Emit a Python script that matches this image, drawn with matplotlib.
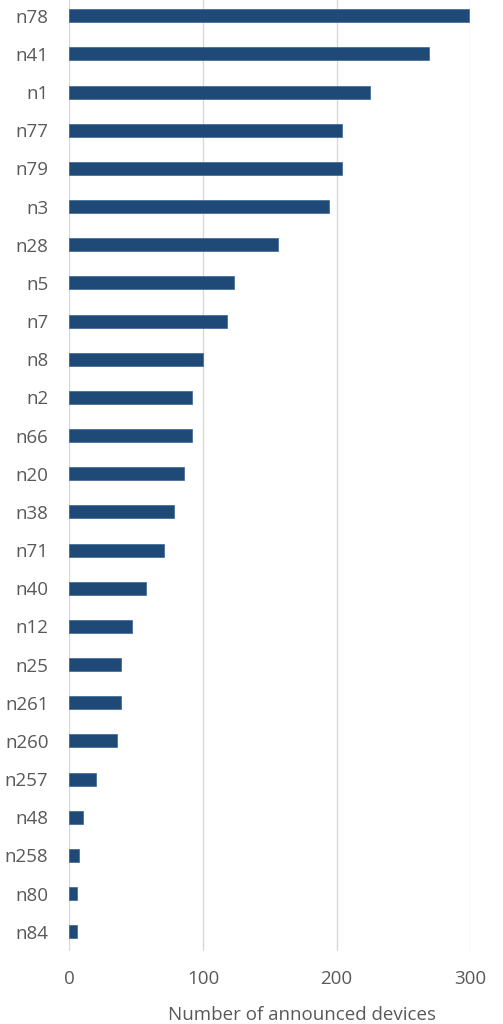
import matplotlib
matplotlib.use("Agg")
import matplotlib.pyplot as plt

# bands and number of announced devices, top to bottom
bands = ["n78", "n41", "n1", "n77", "n79", "n3", "n28", "n5", "n7", "n8",
         "n2", "n66", "n20", "n38", "n71", "n40", "n12", "n25", "n261", "n260",
         "n257", "n48", "n258", "n80", "n84"]
devices = [299, 269, 225, 204, 204, 194, 156, 123, 118, 100,
           92, 92, 86, 78, 71, 57, 47, 39, 39, 36,
           20, 10, 7, 6, 6]
xticks = [0, 100, 200, 300]

plt.rcParams["font.family"] = ["Open Sans", "DejaVu Sans"]

fig = plt.figure(figsize=(5.03, 10.24), dpi=100)
ax = fig.add_axes([0.1378, 0.0715, 0.7972, 0.9318])

pos = list(range(len(bands)))
ax.barh(pos, devices, height=0.34, color="#1f4a78", edgecolor="#3a6595", linewidth=0.5, zorder=3)

ax.set_xlim(0, 300)
ax.set_ylim(len(bands) - 0.5, -0.5)
ax.set_yticks(pos)
ax.set_yticklabels(bands)
ax.set_xticks(xticks)
ax.set_xticklabels([str(t) for t in xticks])

ax.grid(axis="x", color="#d9d9d9", linewidth=1.0, zorder=0)
ax.grid(axis="y", visible=False)
for s in ax.spines.values():
    s.set_visible(False)

ax.tick_params(axis="both", length=0, labelsize=13.5, colors="#595959")
ax.tick_params(axis="y", pad=15)
ax.tick_params(axis="x", pad=14)

ax.set_xlabel("Number of announced devices", fontsize=13.5, color="#595959")
ax.xaxis.set_label_coords(0.58, -0.058)

fig.savefig("out.png", dpi=100)
